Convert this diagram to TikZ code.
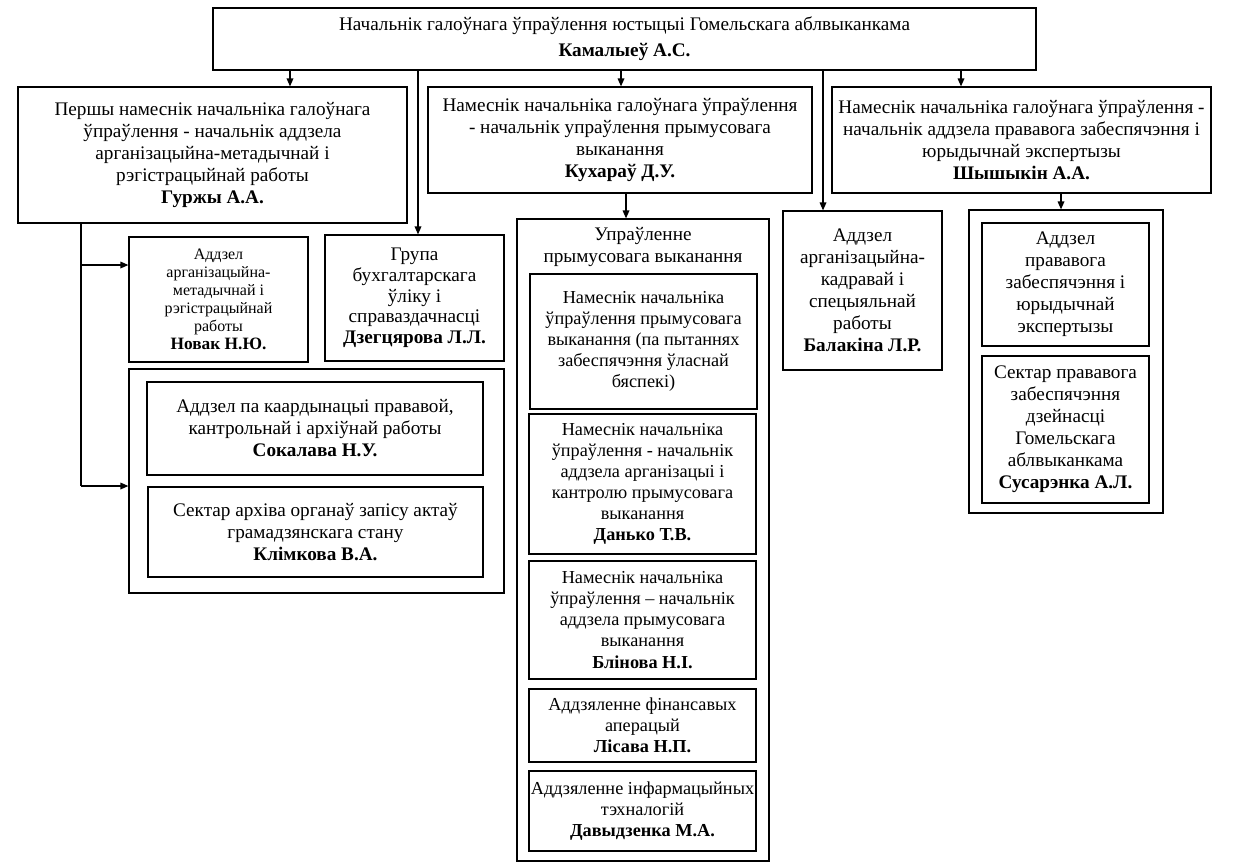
\documentclass[tikz,border=0pt]{standalone}
\usepackage{fontspec}
\setmainfont{Liberation Serif}
\usepackage{tikz}
\usetikzlibrary{arrows.meta, positioning}

\begin{document}
\begin{tikzpicture}[
    x=0.75pt, y=-0.75pt,
    every node/.style={font=\fontsize{14.4}{16.5}\selectfont},
    box/.style={draw, line width=0.9pt, inner sep=0pt, align=center},
    dims/.style 2 args={minimum width=#1*0.75pt, minimum height=#2*0.75pt},
    small/.style={font=\fontsize{12}{13.5}\selectfont},
    mid/.style={font=\fontsize{13.7}{15.8}\selectfont},
    arr/.style={-{Triangle[length=6pt, width=5pt]}, line width=0.9pt},
    link/.style={line width=0.9pt}
]
    \useasboundingbox (0,0) rectangle (1235,865);

    % head of the department
    \node[box, dims={823}{62}, font=\fontsize{14.4}{19.5}\selectfont] (head) at (624.5,39) {Начальнік галоўнага ўпраўлення юстыцыі Гомельскага аблвыканкама\\\textbf{Камалыеў А.С.}};

    % deputies
    \node[box, dims={389}{136}] (first) at (212.5,155) {Першы намеснік начальніка галоўнага\\ўпраўлення - начальнік аддзела\\арганізацыйна-метадычнай і\\рэгістрацыйнай работы\\\textbf{Гуржы А.А.}};
    \node[box, dims={384}{106}] (depexec) at (620,140) {Намеснік начальніка галоўнага ўпраўлення\\- начальнік упраўлення прымусовага\\выканання\\\textbf{Кухараў Д.У.}};
    \node[box, dims={379}{106}] (deplaw) at (1021.5,140) {Намеснік начальніка галоўнага ўпраўлення -\\начальнік аддзела прававога забеспячэння і\\юрыдычнай экспертызы\\\textbf{Шышыкін А.А.}};

    % left branch
    \node[box, small, dims={179}{125}] (novak) at (218.5,299.5) {Аддзел\\арганізацыйна-\\метадычнай і\\рэгістрацыйнай\\работы\\\textbf{\fontsize{13}{15}\selectfont Новак Н.Ю.}};
    \node[box, dims={179}{126}, font=\fontsize{14.4}{15.5}\selectfont] (buh) at (414.5,298) {Група\\бухгалтарскага\\ўліку і\\справаздачнасці\\\textbf{Дзегцярова Л.Л.}};
    \node[box, dims={375}{224}] (archgrp) at (316.5,481) {};
    \node[box, dims={336}{93}] (sokal) at (315,428.5) {Аддзел па каардынацыі прававой,\\кантрольнай і архіўнай работы\\\textbf{Сокалава Н.У.}};
    \node[box, dims={335}{90}] (klim) at (315.5,532) {Сектар архіва органаў запісу актаў\\грамадзянскага стану\\\textbf{Клімкова В.А.}};

    % enforcement department
    \node[box, dims={252}{642}] (upr) at (643,540) {};
    \node[align=center, below=3pt of upr.north] (uprtitle) {Упраўленне\\прымусовага выканання};
    \node[box, mid, dims={227}{135}] (upr1) at (643.5,341.5) {Намеснік начальніка\\ўпраўлення прымусовага\\выканання (па пытаннях\\забеспячэння ўласнай\\бяспекі)};
    \node[box, mid, dims={227}{140}] (upr2) at (642.5,484) {Намеснік начальніка\\ўпраўлення - начальнік\\аддзела арганізацыі і\\кантролю прымусовага\\выканання\\\textbf{Данько Т.В.}};
    \node[box, mid, dims={227}{118}] (upr3) at (642.5,620) {Намеснік начальніка\\ўпраўлення – начальнік\\аддзела прымусовага\\выканання\\\textbf{Блінова Н.І.}};
    \node[box, mid, dims={227}{73}] (upr4) at (642.5,725.5) {Аддзяленне фінансавых\\аперацый\\\textbf{Лісава Н.П.}};
    \node[box, mid, dims={227}{80}] (upr5) at (642.5,811) {Аддзяленне інфармацыйных\\тэхналогій\\\textbf{Давыдзенка М.А.}};

    % right branch
    \node[box, dims={159}{159}] (kadr) at (862.5,290.5) {Аддзел\\арганізацыйна-\\кадравай і\\спецыяльнай\\работы\\\textbf{Балакіна Л.Р.}};
    \node[box, dims={194}{303}] (lawgrp) at (1066,361.5) {};
    \node[box, dims={167}{123}] (law) at (1065.5,284.5) {Аддзел\\прававога\\забеспячэння і\\юрыдычнай\\экспертызы};
    \node[box, dims={167}{147}] (sektar) at (1065.5,429.5) {Сектар прававога\\забеспячэння\\дзейнасці\\Гомельскага\\аблвыканкама\\\textbf{Сусарэнка А.Л.}};

    % connector positions
    \coordinate (xfirst) at (290,0);
    \coordinate (xbuh) at (418,0);
    \coordinate (xexec) at (621,0);
    \coordinate (xupr) at (626,0);
    \coordinate (xkadr) at (823,0);
    \coordinate (xlaw) at (961,0);
    \coordinate (xlawgrp) at (1061,0);
    \coordinate (ynovak) at (81,265);
    \coordinate (yarch) at (81,486);

    \draw[arr] (head.south -| xfirst) -- (first.north -| xfirst);
    \draw[arr] (head.south -| xbuh) -- (buh.north -| xbuh);
    \draw[arr] (head.south -| xexec) -- (depexec.north -| xexec);
    \draw[arr] (head.south -| xkadr) -- (kadr.north -| xkadr);
    \draw[arr] (head.south -| xlaw) -- (deplaw.north -| xlaw);
    \draw[arr] (depexec.south -| xupr) -- (upr.north -| xupr);
    \draw[arr] (deplaw.south -| xlawgrp) -- (lawgrp.north -| xlawgrp);

    \draw[link] (first.south -| ynovak) -- (yarch);
    \draw[arr] (ynovak) -- (ynovak -| novak.west);
    \draw[arr] (yarch) -- (yarch -| archgrp.west);
\end{tikzpicture}
\end{document}
